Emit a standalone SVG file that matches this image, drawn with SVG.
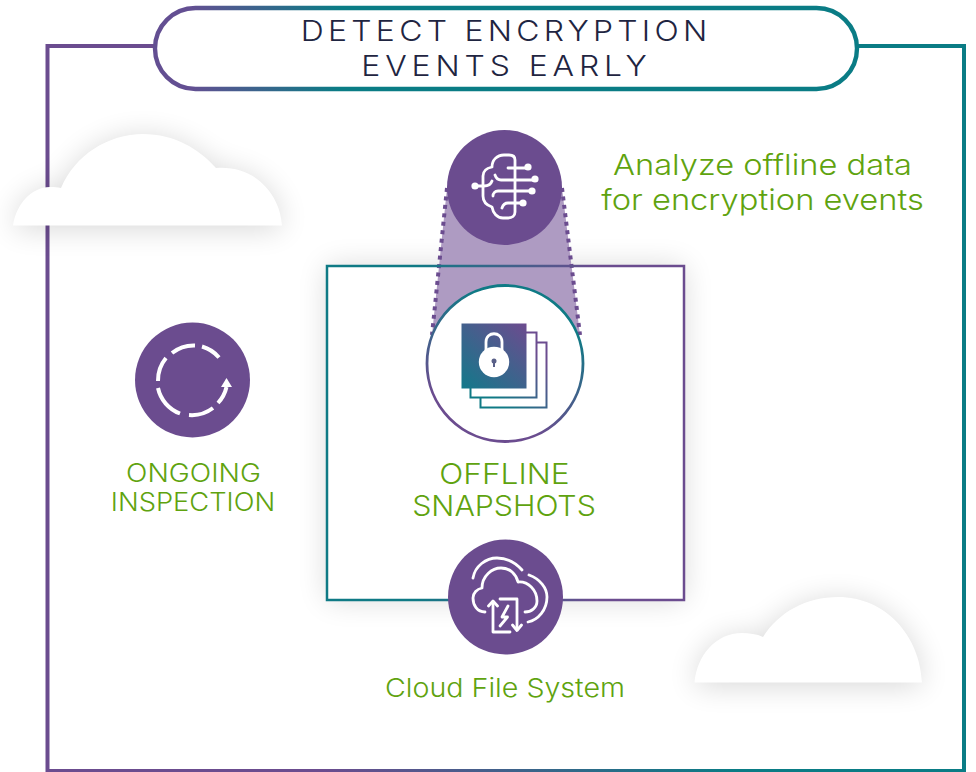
<svg xmlns="http://www.w3.org/2000/svg" width="976" height="772" viewBox="0 0 976 772">
<style>
.ttl{font-family:"Inter","Liberation Sans",sans-serif;font-size:29px;font-weight:300;fill:#1f2541;text-anchor:middle}
.grn{font-family:"Inter","Liberation Sans",sans-serif;font-weight:300;fill:#5fa30f;text-anchor:middle}
.ico{fill:none;stroke:#fff;stroke-width:2.8;stroke-linecap:round;stroke-linejoin:round}
.dot{fill:#fff}
.disc{fill:#6b4c8f}
</style>
<defs>
<linearGradient id="gFrame" gradientUnits="userSpaceOnUse" x1="47" y1="0" x2="964" y2="0"><stop offset="0.3" stop-color="#6b4c8f"/><stop offset="0.75" stop-color="#0a7c85"/></linearGradient>
<linearGradient id="gPill" gradientUnits="userSpaceOnUse" x1="190" y1="0" x2="340" y2="0"><stop offset="0" stop-color="#634f92"/><stop offset="1" stop-color="#0a7c85"/></linearGradient>
<linearGradient id="gBox" gradientUnits="userSpaceOnUse" x1="327" y1="0" x2="684" y2="0"><stop offset="0.25" stop-color="#0f7a85"/><stop offset="0.75" stop-color="#6b4c8f"/></linearGradient>
<linearGradient id="gRing" gradientUnits="userSpaceOnUse" x1="535" y1="290" x2="475" y2="437"><stop offset="0.15" stop-color="#0f7a85"/><stop offset="0.85" stop-color="#6b4c8f"/></linearGradient>
<linearGradient id="gSnap" gradientUnits="userSpaceOnUse" x1="465" y1="392" x2="525" y2="325"><stop offset="0" stop-color="#12798a"/><stop offset="1" stop-color="#6b4c8f"/></linearGradient>
<linearGradient id="gSheet" gradientUnits="userSpaceOnUse" x1="475" y1="408" x2="546" y2="335"><stop offset="0.2" stop-color="#0f7a85"/><stop offset="0.8" stop-color="#6b4c8f"/></linearGradient>
<filter id="soft" x="-30%" y="-50%" width="160%" height="200%"><feGaussianBlur stdDeviation="15"/></filter>
<filter id="softBox" x="-20%" y="-20%" width="140%" height="140%"><feGaussianBlur stdDeviation="15"/></filter>
<path id="cloudL" d="M13 225.500C16 205 31 187 50 187C54 187 58 187 61 188C75 155 108 134 143 134C175 134 199 149 216 168C254 165 280 193 282 225.500Z"/>
<path id="cloudR" d="M694.500 682.500C697 655 716 633 742 633C749 633 757 634 763 637C779 612 806 597 838 597C886 597 920 636 922 682.500Z"/>
</defs>
<rect width="976" height="772" fill="#fff"/>

<g id="connectors">
<path d="M155 46H47.500V771H964V46H857" fill="none" stroke="url(#gFrame)" stroke-width="4"/>
</g>

<g id="cloud-left">
<use href="#cloudL" fill="#000" opacity="0.16" filter="url(#soft)" transform="translate(0 3)"/>
<use href="#cloudL" fill="#fff"/>
</g>
<g id="cloud-right">
<use href="#cloudR" fill="#000" opacity="0.16" filter="url(#soft)" transform="translate(0 3)"/>
<use href="#cloudR" fill="#fff"/>
</g>

<g id="title">
<rect x="155" y="8" width="702" height="81" rx="40.500" fill="#fff" stroke="url(#gPill)" stroke-width="4.400"/>
<text class="ttl" transform="translate(504 41) scale(1.1 1)" x="1.950" letter-spacing="3.900">DETECT ENCRYPTION</text>
<text class="ttl" transform="translate(504 76) scale(1.1 1)" x="2.230" letter-spacing="4.460">EVENTS EARLY</text>
</g>

<g id="snapshots-box">
<rect x="327" y="266" width="357" height="334" fill="#000" opacity="0.15" filter="url(#softBox)"/>
<rect x="327" y="266" width="357" height="334" fill="#fff"/>
<path d="M447 188H562L580 335H432Z" fill="#ae9bc2"/>
<path d="M447 188L432 335M562 188L580 335" fill="none" stroke="#6b4c8f" stroke-width="4" stroke-dasharray="4 4.500"/>
<rect x="327" y="266" width="357" height="334" fill="none" stroke="url(#gBox)" stroke-width="2.500"/>
</g>

<g id="analyze">
<circle class="disc" cx="504.500" cy="187.500" r="57.500"/>
<path class="ico" d="M515 160V212C515 216 512 218 508 218H503C497 218 493 213 492 207C486 205 483 201 483 196V176C483 171 487 168 492 167C492 160 497 155 504 155H509C513 155 515 157 515 160"/>
<path class="ico" d="M477 186H484C488 186 491 184 492 181M508 168H527M495 175C496 178 498 180 501 180H534M493 196C493 193 495 191 498 191H531M502 208C503 205 505 203 508 203H522"/>
<circle class="dot" cx="475" cy="186" r="3.600"/><circle class="dot" cx="528" cy="167" r="3.600"/><circle class="dot" cx="535" cy="179" r="3.600"/><circle class="dot" cx="532" cy="191" r="3.600"/><circle class="dot" cx="523" cy="203" r="3.600"/>
<text class="grn" font-size="29" transform="translate(762.500 175) scale(1.125 1)">Analyze offline data</text>
<text class="grn" font-size="29" transform="translate(762.500 210) scale(1.126 1)">for encryption events</text>
</g>

<g id="snapshots">
<circle cx="505" cy="363.500" r="78" fill="#fff" stroke="url(#gRing)" stroke-width="2.800"/>
<rect x="480.500" y="342.500" width="66" height="65" fill="#fff" stroke="url(#gSheet)" stroke-width="2"/>
<rect x="470.500" y="332.500" width="66" height="65" fill="#fff" stroke="url(#gSheet)" stroke-width="2"/>
<rect x="461.500" y="323.500" width="65" height="65" fill="url(#gSnap)"/>
<path d="M486 351V342C486 331 502 331 502 342V351" fill="none" stroke="#fff" stroke-width="2.800"/>
<circle class="dot" cx="494" cy="362" r="15.200"/>
<circle cx="494" cy="361" r="2.500" fill="#5a6088"/><rect x="493" y="361" width="2" height="6" fill="#5a6088"/>
<text class="grn" font-size="29" transform="translate(504.500 484) scale(1.093 1)">OFFLINE</text>
<text class="grn" font-size="29" transform="translate(504 516) scale(1.046 1)">SNAPSHOTS</text>
</g>

<g id="ongoing">
<circle class="disc" cx="192.500" cy="380" r="57.500"/>
<path d="M172 353A35 35 0 0 1 195 345.500M202 346.500A35 35 0 0 1 219 357.500M166 358A35 35 0 0 0 158 381M158 388A35 35 0 0 0 180 413.500M189 415A35 35 0 0 0 213 408M218 403A35 35 0 0 0 226.500 387" fill="none" stroke="#fff" stroke-width="4"/>
<path class="dot" d="M226.500 378L232 387H221Z"/>
<text class="grn" font-size="25" transform="translate(193.500 482) scale(1.127 1)">ONGOING</text>
<text class="grn" font-size="25" transform="translate(193 511) scale(1.093 1)">INSPECTION</text>
</g>

<g id="cloud-file-system">
<circle class="disc" cx="505.500" cy="597" r="57.500"/>
<path class="ico" d="M485 612C477 612 473 605 473 598C473 593 477 589 482 588C482 576 492 568 501 568C510 568 516 574 518 582C528 581 537 590 537 601C537 608 531 612 525 612"/>
<path class="ico" d="M473 578C475 566 486 558 497 558C507 558 516 563 522 570M529 575C540 579 547 588 547 597C547 610 538 620 528 622"/>
<path class="ico" d="M493 604V632H510M500 599H517V628"/>
<path class="ico" d="M488.500 606L493 601L497.500 606M512.500 625L517 630.500L521.500 625"/>
<path class="ico" d="M508 606L502 617H507.500L500 626"/>
<text class="grn" font-size="26" transform="translate(505 697) scale(1.1 1)">Cloud File System</text>
</g>
</svg>
